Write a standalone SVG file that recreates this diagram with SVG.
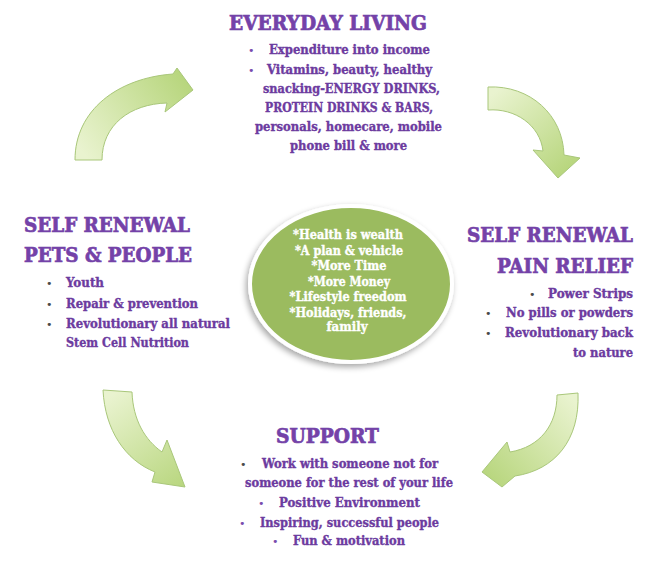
<svg xmlns="http://www.w3.org/2000/svg" width="663" height="580" viewBox="0 0 663 580">
<defs>
<style>
.t{font-family:"DejaVu Serif Condensed","DejaVu Serif","Liberation Serif",serif;font-weight:bold;font-size:21px;fill:#7442a8;stroke:#7442a8;stroke-width:0.7px}
.b{font-family:"DejaVu Serif Condensed","DejaVu Serif","Liberation Serif",serif;font-weight:bold;font-size:12.5px;fill:#6c3b9f;stroke:#6c3b9f;stroke-width:0.35px}
.c{font-family:"DejaVu Serif Condensed","DejaVu Serif","Liberation Serif",serif;font-weight:bold;font-size:12.8px;fill:#ffffff;stroke:#ffffff;stroke-width:0.35px;text-anchor:middle}
.d{font-family:"DejaVu Sans","Liberation Sans",sans-serif;font-size:11px;fill:#4a4a4a}
.p{font-family:"DejaVu Sans","Liberation Sans",sans-serif;font-size:11px;fill:#7a4cae}
.arrow{stroke:#a9c77a;stroke-width:1}
</style>
<linearGradient id="g1" gradientUnits="userSpaceOnUse" x1="88" y1="160" x2="190" y2="88"><stop offset="0" stop-color="#e9f3cf"/><stop offset="1" stop-color="#b8d67e"/></linearGradient>
<linearGradient id="g2" gradientUnits="userSpaceOnUse" x1="488" y1="98" x2="558" y2="178"><stop offset="0" stop-color="#e9f3cf"/><stop offset="1" stop-color="#b8d67e"/></linearGradient>
<linearGradient id="g3" gradientUnits="userSpaceOnUse" x1="568" y1="394" x2="482" y2="472"><stop offset="0" stop-color="#e9f3cf"/><stop offset="1" stop-color="#b8d67e"/></linearGradient>
<linearGradient id="g4" gradientUnits="userSpaceOnUse" x1="118" y1="391" x2="185" y2="487"><stop offset="0" stop-color="#e9f3cf"/><stop offset="1" stop-color="#b8d67e"/></linearGradient>
<filter id="sh" x="-20%" y="-20%" width="140%" height="140%"><feGaussianBlur in="SourceAlpha" stdDeviation="3"/><feOffset dx="-2" dy="3"/><feComponentTransfer><feFuncA type="linear" slope="0.35"/></feComponentTransfer><feMerge><feMergeNode/><feMergeNode in="SourceGraphic"/></feMerge></filter>
</defs>
<rect width="663" height="580" fill="#ffffff"/>

<g id="connectors">
<path class="arrow" fill="url(#g1)" d="M75,160 C75,110 118,78 173,74 L177,68 L193,90 L165,112 L167,103 C130,104 102,125 102,160 Z"/>
<path class="arrow" fill="url(#g2)" d="M488,87 C530,85 563,115 564,155 L580,158 L558,178 L533,150 L543,151 C540,125 515,108 488,110 Z"/>
<path class="arrow" fill="url(#g3)" d="M578,393 C580,440 555,470 515,476 L502,487 L482,472 L507,442 L510,452 C540,447 557,425 557,395 Z"/>
<path class="arrow" fill="url(#g4)" d="M103,390 C105,430 125,460 155,472 L152,482 L185,487 L167,440 L162,452 C145,440 133,420 132,392 Z"/>
</g>

<g id="center">
<ellipse cx="351" cy="284" rx="101" ry="78" fill="#9bbb5f" stroke="#ffffff" stroke-width="4" filter="url(#sh)"/>
<text class="c" x="348" y="239" textLength="110" lengthAdjust="spacingAndGlyphs">*Health is wealth</text>
<text class="c" x="349" y="254.5" textLength="108" lengthAdjust="spacingAndGlyphs">*A plan &amp; vehicle</text>
<text class="c" x="349" y="270" textLength="75" lengthAdjust="spacingAndGlyphs">*More Time</text>
<text class="c" x="349" y="285.5" textLength="82" lengthAdjust="spacingAndGlyphs">*More Money</text>
<text class="c" x="348" y="301" textLength="117" lengthAdjust="spacingAndGlyphs">*Lifestyle freedom</text>
<text class="c" x="348" y="316.5" textLength="117" lengthAdjust="spacingAndGlyphs">*Holidays, friends,</text>
<text class="c" x="347" y="331" textLength="41" lengthAdjust="spacingAndGlyphs">family</text>
</g>

<g id="everyday-living">
<text class="t" x="229" y="30" textLength="198" lengthAdjust="spacingAndGlyphs">EVERYDAY LIVING</text>
<text class="p" x="248" y="54">•</text>
<text class="b" x="269" y="54" textLength="161" lengthAdjust="spacingAndGlyphs">Expenditure into income</text>
<text class="p" x="248" y="74">•</text>
<text class="b" x="267" y="74" textLength="165" lengthAdjust="spacingAndGlyphs">Vitamins, beauty, healthy</text>
<text class="b" x="263" y="93" textLength="177" lengthAdjust="spacingAndGlyphs">snacking-ENERGY DRINKS,</text>
<text class="b" x="265" y="112" textLength="168" lengthAdjust="spacingAndGlyphs">PROTEIN DRINKS &amp; BARS,</text>
<text class="b" x="255" y="131" textLength="187" lengthAdjust="spacingAndGlyphs">personals, homecare, mobile</text>
<text class="b" x="290" y="150" textLength="117" lengthAdjust="spacingAndGlyphs">phone bill &amp; more</text>
</g>

<g id="self-renewal-pets">
<text class="t" x="24" y="232" textLength="166" lengthAdjust="spacingAndGlyphs">SELF RENEWAL</text>
<text class="t" x="24" y="262" textLength="168" lengthAdjust="spacingAndGlyphs">PETS &amp; PEOPLE</text>
<text class="d" x="46" y="287">•</text>
<text class="b" x="66" y="287" textLength="38" lengthAdjust="spacingAndGlyphs">Youth</text>
<text class="d" x="46" y="308">•</text>
<text class="b" x="66" y="308" textLength="132" lengthAdjust="spacingAndGlyphs">Repair &amp; prevention</text>
<text class="d" x="46" y="328">•</text>
<text class="b" x="66" y="328" textLength="164" lengthAdjust="spacingAndGlyphs">Revolutionary all natural</text>
<text class="b" x="66" y="347" textLength="123" lengthAdjust="spacingAndGlyphs">Stem Cell Nutrition</text>
</g>

<g id="self-renewal-pain">
<text class="t" x="467" y="242" textLength="166" lengthAdjust="spacingAndGlyphs">SELF RENEWAL</text>
<text class="t" x="497" y="273" textLength="136" lengthAdjust="spacingAndGlyphs">PAIN RELIEF</text>
<text class="d" x="529" y="298">•</text>
<text class="b" x="548" y="298" textLength="85" lengthAdjust="spacingAndGlyphs">Power Strips</text>
<text class="d" x="485" y="317">•</text>
<text class="b" x="506" y="317" textLength="127" lengthAdjust="spacingAndGlyphs">No pills or powders</text>
<text class="d" x="485" y="337">•</text>
<text class="b" x="505" y="337" textLength="128" lengthAdjust="spacingAndGlyphs">Revolutionary back</text>
<text class="b" x="573" y="357" textLength="60" lengthAdjust="spacingAndGlyphs">to nature</text>
</g>

<g id="support">
<text class="t" x="276" y="443" textLength="103" lengthAdjust="spacingAndGlyphs">SUPPORT</text>
<text class="d" x="240" y="468">•</text>
<text class="b" x="262" y="468" textLength="176" lengthAdjust="spacingAndGlyphs">Work with someone not for</text>
<text class="b" x="245" y="487" textLength="208" lengthAdjust="spacingAndGlyphs">someone for the rest of your life</text>
<text class="p" x="258" y="507">•</text>
<text class="b" x="279" y="507" textLength="141" lengthAdjust="spacingAndGlyphs">Positive Environment</text>
<text class="p" x="239" y="527">•</text>
<text class="b" x="260" y="527" textLength="179" lengthAdjust="spacingAndGlyphs">Inspiring, successful people</text>
<text class="p" x="272" y="545">•</text>
<text class="b" x="293" y="545" textLength="112" lengthAdjust="spacingAndGlyphs">Fun &amp; motivation</text>
</g>
</svg>
